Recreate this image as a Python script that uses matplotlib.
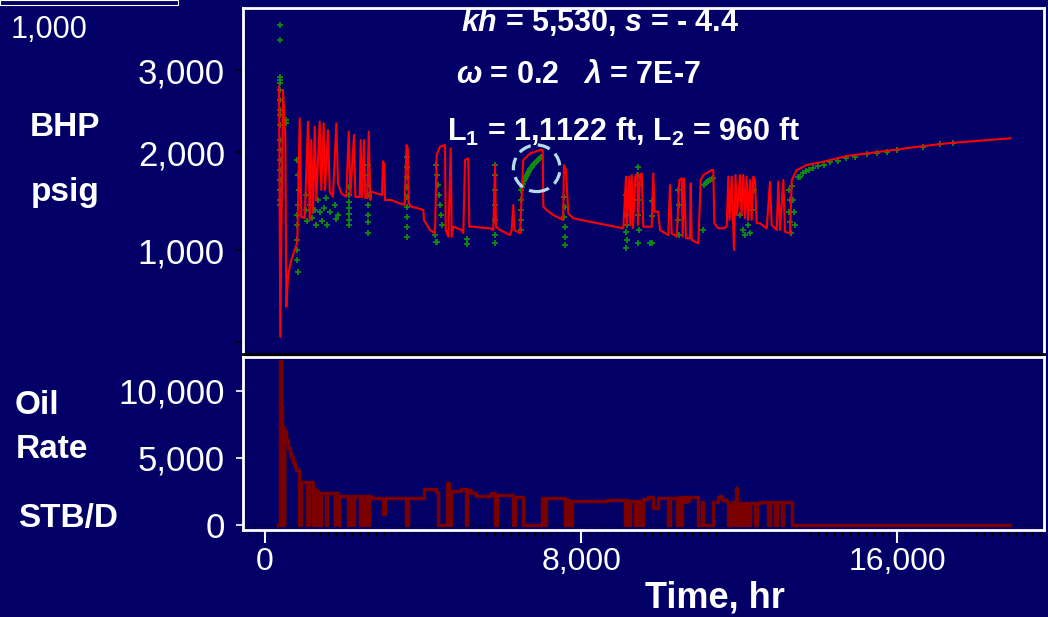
import numpy as np
import matplotlib
matplotlib.use('Agg')
import matplotlib.pyplot as plt
from matplotlib.patches import Ellipse, Rectangle
from matplotlib.ticker import FixedLocator, MultipleLocator, NullFormatter

# ---------------- data ----------------
# simulated BHP (red line): time [hr], pressure [psig]
bhp_t = [355, 387, 455, 514, 539, 582, 625, 665, 751, 817, 878, 918, 1004, 1088, 1131, 1171, 1214, 1257,
         1298, 1384, 1424, 1485, 1518, 1594, 1637, 1720, 1804, 1847, 1930, 2057, 2118, 2158, 2252, 2285,
         2396, 2421, 2454, 2505, 2538, 2588, 2624, 2664, 2689, 2960, 2985, 3020, 3036, 3195, 3365, 3534,
         3580, 3610, 3636, 3701, 3871, 4005, 4023, 4175, 4301, 4344, 4428, 4554, 4572, 4638, 4698, 4724,
         4764, 4977, 5017, 5060, 5143, 5169, 5270, 5692, 5776, 5819, 5844, 5946, 6198, 6241, 6282, 6307,
         6452, 6535, 6704, 6958, 7026, 7041, 7127, 7294, 7464, 7540, 7565, 7615, 7673, 7800, 8222, 9065,
         9133, 9158, 9217, 9242, 9278, 9310, 9369, 9420, 9437, 9488, 9531, 9571, 9783, 9824, 9854, 9950,
         9993, 10203, 10247, 10289, 10416, 10482, 10542, 10568, 10601, 10652, 10753, 10770, 10795, 10964,
         11024, 11091, 11302, 11342, 11368, 11461, 11595, 11681, 11722, 11753, 11808, 11840, 11866, 11904,
         11942, 12018, 12056, 12101, 12144, 12187, 12220, 12270, 12313, 12354, 12397, 12440, 12524, 12693,
         12777, 12820, 12946, 12987, 13030, 13113, 13156, 13283, 13326, 13452, 13705, 14125, 14717, 15560,
         16402, 17247, 18090, 18849]
bhp_p = [2800, 58, 2756, 2187, 384, 710, 819, 891, 1000, 1085, 2411, 1340, 1326, 2370, 1306, 2146, 1377, 2309,
         1510, 2370, 1612, 2350, 1612, 2268, 1595, 1544, 2350, 1680, 1578, 1544, 2248, 1561, 2207, 1544,
         1540, 2146, 1540, 2146, 1530, 1530, 2248, 1510, 1595, 1561, 1905, 1880, 1510, 1510, 1483, 1459,
         2085, 2049, 1476, 1442, 1425, 1408, 1306, 1204, 1170, 1969, 2065, 2085, 1204, 1136, 2045, 1136,
         1238, 1204, 1173, 1918, 1935, 1238, 1238, 1221, 1204, 1867, 1238, 1204, 1153, 1204, 1459, 1204,
         1170, 1918, 1985, 2024, 2024, 1442, 1408, 1357, 1323, 1306, 1867, 1816, 1374, 1323, 1289, 1221,
         1748, 1255, 1748, 1255, 1765, 1224, 1748, 1782, 1255, 1765, 1782, 1238, 1238, 1782, 1391, 1391,
         1204, 1153, 1663, 1170, 1136, 1714, 1731, 1136, 1731, 1119, 1119, 1680, 1102, 1068,
         1714, 1765, 1816, 1816, 1272, 1224, 1221, 1238, 1748, 1306, 1748, 1306, 1000, 1765,
         1357, 1765, 1357, 1765, 1326, 1748, 1306, 1714, 1306, 1748, 1714, 1275, 1272, 1221,
         1697, 1255, 1204, 1697, 1204, 1714, 1187, 1170, 1714, 1816, 1867, 1901, 1959, 2004,
         2057, 2106, 2138, 2167]

# measured BHP (green crosses)
gauge_t = [378, 378, 372, 380, 374, 381, 376, 370, 383, 375, 379, 372, 384, 377, 371, 382, 376, 380, 531, 540,
           810, 835, 860, 835, 810, 810, 797, 810, 810, 835,
           1037, 1037, 1063, 1139, 1189, 1265, 1290, 1341, 1392, 1442, 1493, 1543, 1569, 1645, 1771, 1796, 1847,
           2130, 2125, 2135, 2130, 2125, 2135, 2130,
           2600, 2595, 2605, 2600, 2595, 2605, 2600, 2600,
           3590, 3585, 3595, 3590, 3585, 3595, 3590, 3585, 3595,
           4326, 4352, 4377, 4402, 4428, 4453, 4478, 4301, 4352, 4326, 5111, 5111,
           5819, 5815, 5822, 5819, 5815, 5822, 5819,
           6477, 6502, 6527, 6553, 6578, 6604, 6629, 6654, 6679, 6705, 6730, 6755, 6780, 6806, 6831, 6857,
           6882, 6907, 6932, 6958, 6983, 6470, 6470, 6470, 6470,
           7570, 7590, 7575, 7595, 7580, 7590,
           9133, 9159, 9133, 9159, 9133, 9159, 9133,
           9445, 9440, 9450, 9445, 9440, 9450, 9445, 9740, 9790, 9800, 9790,
           10449, 10474, 10449, 10474,
           11081, 11107, 11145, 11183, 11220, 11259, 11297, 11334,
           11942, 12018, 12093, 12144, 12220, 12270, 12321, 12372,
           13257, 13283, 13257, 13283, 13308,
           13326, 13358, 13384, 13409, 13485, 13536, 13611, 13687, 13763, 13864, 13991, 14143, 14295, 14497,
           14699, 14927, 15222, 15484, 15729, 15982, 16655, 17078, 17414]
gauge_p = [3549, 3366, 2915, 2878, 2842, 2756, 2634, 2512, 2451, 2329, 2146, 2024, 1918, 1816, 1714, 1612, 1510, 1459, 2390, 2350,
           1918, 1765, 1612, 1459, 1357, 1255, 1102, 1000, 891, 761,
           1561, 1408, 1296, 1459, 1326, 1408, 1255, 1510, 1388, 1296, 1428, 1530, 1255, 1388, 1459, 1316, 1357,
           1643, 1561, 1489, 1428, 1367, 1306, 1255,
           1867, 1765, 1663, 1561, 1459, 1357, 1286, 1173,
           1949, 1847, 1745, 1643, 1540, 1438, 1336, 1238, 1136,
           1867, 1765, 1663, 1561, 1459, 1357, 1255, 1153, 1082, 1082, 1112, 1061,
           1867, 1765, 1612, 1459, 1306, 1153, 1071,
           1612, 1643, 1673, 1700, 1724, 1745, 1765, 1786, 1806, 1822, 1837, 1852, 1867, 1878, 1888, 1898,
           1908, 1919, 1929, 1939, 1949, 1510, 1408, 1306, 1204,
           1540, 1438, 1336, 1238, 1136, 1051,
           1561, 1459, 1357, 1255, 1184, 1102, 1020,
           1847, 1765, 1663, 1510, 1357, 1204, 1071, 1071, 1071, 1500, 1350,
           1612, 1459, 1306, 1153,
           1204, 1663, 1680, 1694, 1704, 1714, 1725, 1735,
           1510, 1357, 1204, 1153, 1255, 1173, 1408, 1612,
           1612, 1510, 1388, 1286, 1173,
           1653, 1510, 1388, 1255, 1745, 1748, 1786, 1806, 1821, 1837, 1857, 1872, 1893, 1913,
           1934, 1954, 1980, 1995, 2006, 2024, 2067, 2098, 2113]

# oil rate history (step function): time [hr], rate [STB/D]
rate_t = [330, 372, 395, 412, 430, 455, 475, 490, 539, 580, 620, 665, 708, 750, 792, 853, 903, 1070, 1110,
          1214, 1240, 1290, 1316, 1340, 1366, 1400, 1424, 1551, 1570, 1763, 1780, 1847, 1860, 1880, 2100,
          2140, 2226, 2250, 2396, 2420, 2505, 2530, 2606, 2640, 2674, 2985, 3028, 3575, 3610, 4015, 4334,
          4377, 4612, 4655, 4713, 4951, 5093, 5118, 5219, 5346, 5725, 5827, 5877, 6274, 6317, 6527,
          7000, 7070, 7100, 7590, 7620, 7650, 7690, 7720, 7760, 8645, 9108, 9140, 9180, 9235, 9361, 9400,
          9450, 9500, 9531, 9571, 9697, 9824, 9950, 10204, 10240, 10416, 10440, 10500, 10540, 10600, 10640,
          10680, 10720, 10963, 11048, 11090, 11342, 11469, 11512, 11554, 11681, 11723, 11765, 11807, 11850,
          11891, 11916, 11934, 11976, 12018, 12101, 12143, 12228, 12260, 12397, 12439, 12524, 12734, 12776,
          12903, 12945, 13072, 13114, 13326, 18850]
rate_q = [0, 12200, 10400, 8800, 0, 7300, 0, 7000, 6340, 5720, 5400, 5100, 4600, 4300, 4100, 0, 3200, 0, 3200,
          0, 2700, 0, 2500, 0, 2400, 0, 2400, 0, 2400, 0, 2400, 2200, 0, 2200, 0,
          2200, 0, 2200, 0, 2200, 0, 2200, 0, 2200, 2000, 850, 2050, 0, 2050, 2650, 2450,
          0, 3100, 0, 2550, 2700, 0, 2600, 2350, 2150, 2350, 0, 2250, 0, 2100, 0,
          1990, 0, 1990, 0, 1900, 0, 1900, 0, 1815, 1840, 0, 1840, 0, 1815, 0, 1815,
          0, 1815, 0, 1915, 2065, 1290, 1990, 0, 1990, 0, 2065, 0, 2065, 1700, 2100,
          1800, 2100, 0, 1740, 0, 1740, 2100, 2165, 1890, 1690, 0, 1515, 1690, 0,
          1640, 2740, 1640, 0, 1640, 0, 1640, 0, 1640, 0, 1640, 1740, 0, 1740,
          0, 1740, 0, 1740, 0, 0]

x_ticks = [0, 8000, 16000]
x_labels = ['0', '8,000', '16,000']
bhp_ticks = [0, 1000, 2000, 3000]
bhp_labels = ['', '1,000', '2,000', '3,000']
rate_ticks = [0, 5000, 10000]
rate_labels = ['0', '5,000', '10,000']

# ---------------- style ----------------
BG = '#020066'
W, H = 1048, 617
plt.rcParams['font.family'] = ['Liberation Sans', 'DejaVu Sans']
plt.rcParams['mathtext.fontset'] = 'custom'
plt.rcParams['mathtext.rm'] = 'Liberation Sans:bold'
plt.rcParams['mathtext.it'] = 'Liberation Sans:italic:bold'
plt.rcParams['mathtext.bf'] = 'Liberation Sans:bold'

# the pressure axis of the original is not evenly spaced: piecewise-linear scale
_P = np.array([0.0, 1000.0, 2000.0, 3000.0])
_Hh = np.array([0.0, 92.0, 190.0, 272.0])


def _pl(x, xp, fp):
    x = np.asarray(x, dtype=float)
    y = np.interp(x, xp, fp)
    s0 = (fp[1] - fp[0]) / (xp[1] - xp[0])
    s1 = (fp[-1] - fp[-2]) / (xp[-1] - xp[-2])
    y = np.where(x < xp[0], fp[0] + (x - xp[0]) * s0, y)
    y = np.where(x > xp[-1], fp[-1] + (x - xp[-1]) * s1, y)
    return y


def fwd(p):
    return _pl(p, _P, _Hh)


def inv(h):
    return _pl(h, _Hh, _P)


def fx(px):
    return px / W


def fy(py):
    return 1 - py / H


fig = plt.figure(figsize=(W / 100, H / 100), dpi=100, facecolor=BG)
left, right = fx(243), fx(1044)
ax1 = fig.add_axes([left, fy(354), right - left, fy(8) - fy(354)])
ax2 = fig.add_axes([left, fy(530), right - left, fy(357) - fy(530)])

for ax in (ax1, ax2):
    ax.set_facecolor(BG)
    for sp in ax.spines.values():
        sp.set_color('white')
        sp.set_linewidth(2)
    ax.set_xlim(-557, 19709)
    ax.xaxis.set_major_locator(FixedLocator(x_ticks))

ax1.spines['bottom'].set_color('black')

# top panel: BHP
ax1.set_yscale('function', functions=(fwd, inv))
ax1.plot(gauge_t, gauge_p, linestyle='none', marker='+', color='#0f8c0f', ms=5, mew=1.3, zorder=2)
ax1.plot(bhp_t, bhp_p, color='#ff0000', lw=1.5, zorder=3)
ax1.set_ylim(-130, 3756)
ax1.yaxis.set_major_locator(FixedLocator(bhp_ticks))
ax1.set_yticklabels(bhp_labels)
ax1.yaxis.set_minor_formatter(NullFormatter())
ax1.tick_params(axis='y', which='major', direction='out', length=5, width=1.2, colors='black',
                labelcolor='white', labelsize=25, pad=8)
ax1.tick_params(axis='y', which='minor', length=0)
ax1.tick_params(axis='x', which='both', length=0, labelbottom=False)

# bottom panel: oil rate
ax2.plot(rate_t, rate_q, drawstyle='steps-post', color='#7a0000', lw=2.5, zorder=3)
ax2.set_ylim(-373, 12533)
ax2.yaxis.set_major_locator(FixedLocator(rate_ticks))
ax2.set_yticklabels(rate_labels)
ax2.set_xticklabels(x_labels)
ax2.xaxis.set_minor_locator(MultipleLocator(200))
ax2.tick_params(axis='y', which='major', direction='out', length=5, width=1.2, colors='white',
                labelsize=25, pad=8)
ax2.tick_params(axis='x', which='major', direction='out', length=9, width=1.5, colors='white',
                labelsize=23, pad=3)
ax2.tick_params(axis='x', which='minor', direction='out', length=4, width=1, colors='black')
ax2.axhline(0, color='black', lw=0.8, ls=(0, (1, 2)), zorder=2)

# dashed highlight circle
ax1.add_patch(Ellipse(((536.7 - 243) / 801, (354 - 168.3) / 346), 46.6 / 801, 46.6 / 346,
                      transform=ax1.transAxes, fill=False, edgecolor='#b4dcea', lw=2.3,
                      ls=(0, (4, 2.2)), zorder=5))

# annotations
fig.text(fx(600), fy(22), r'$kh$ = 5,530, $s$ = - 4.4', color='white', fontsize=22,
         fontweight='bold', ha='center', va='center')
fig.text(fx(456), fy(75), r'$\omega$ = 0.2   $\lambda$ = 7E-7', color='white', fontsize=22,
         fontweight='bold', ha='left', va='center')
fig.text(fx(447), fy(132), r'L$_{1}$ = 1,1122 ft, L$_{2}$ = 960 ft', color='white', fontsize=22,
         fontweight='bold', ha='left', va='center')

# axis titles
for txt, x, y in [('BHP', 65, 128), ('psig', 65, 192), ('Oil', 37, 406), ('Rate', 52, 450),
                  ('STB/D', 68, 519)]:
    fig.text(fx(x), fy(y), txt, color='white', fontsize=24, fontweight='bold', ha='center', va='center')
fig.text(fx(715), fy(598), 'Time, hr', color='white', fontsize=26, fontweight='bold',
         ha='center', va='center')
fig.text(fx(49), fy(30), '1,000', color='white', fontsize=22, ha='center', va='center')

# remnant strip at the top-left corner
fig.add_artist(Rectangle((0, fy(5)), fx(178), 5 / H, transform=fig.transFigure, fill=False,
                         edgecolor='white', lw=0.8))

fig.savefig('out.png', dpi=100, facecolor=BG)
